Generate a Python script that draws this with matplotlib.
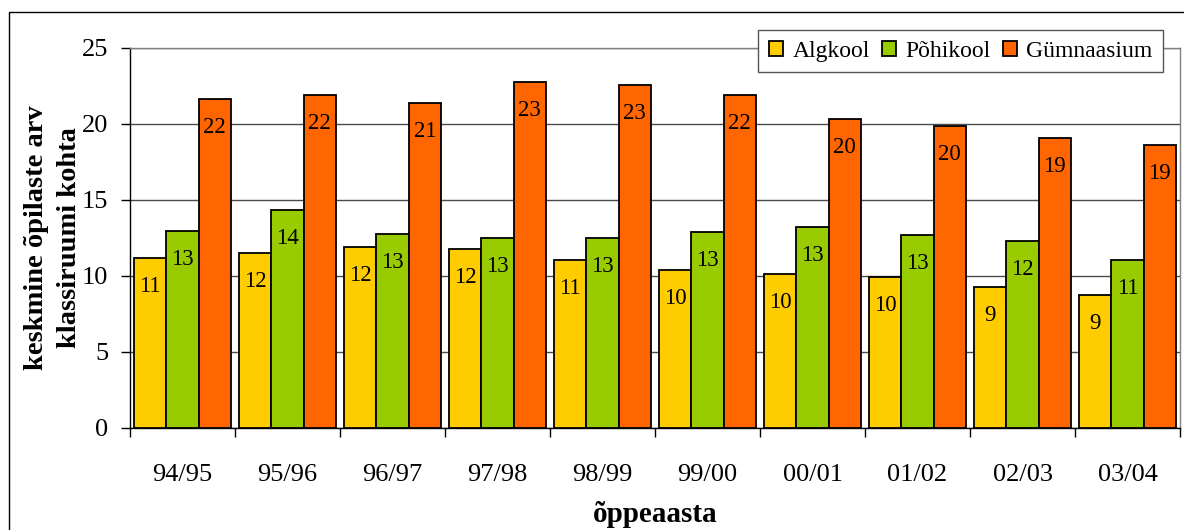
import numpy as np
import matplotlib
matplotlib.use("Agg")
import matplotlib.pyplot as plt
from matplotlib.patches import Rectangle

# Average number of pupils per classroom by school level
years = ["94/95", "95/96", "96/97", "97/98", "98/99", "99/00",
         "00/01", "01/02", "02/03", "03/04"]
algkool = [11.18, 11.54, 11.91, 11.80, 11.03, 10.37, 10.16, 9.93, 9.28, 8.78]
pohikool = [12.94, 14.32, 12.79, 12.52, 12.52, 12.92, 13.20, 12.67, 12.30, 11.03]
gymnaasium = [21.63, 21.91, 21.38, 22.76, 22.55, 21.91, 20.36, 19.87, 19.11, 18.64]

series_names = ["Algkool", "Põhikool", "Gümnaasium"]
colors = ["#FFCC00", "#99CC00", "#FF6600"]

plt.rcParams["font.family"] = ["Liberation Serif", "DejaVu Serif"]

W, H = 1184, 530
fig = plt.figure(figsize=(W / 100, H / 100), dpi=100)
ax = fig.add_axes([130 / W, 1 - 428 / H, (1180 - 130) / W, (428 - 48) / H])

x = np.arange(len(years))
bar_w = 0.308
offsets = [-bar_w, 0.0, bar_w]
for vals, name, col, off in zip([algkool, pohikool, gymnaasium], series_names, colors, offsets):
    bars = ax.bar(x + off, vals, width=bar_w, color=col, edgecolor="black",
                  linewidth=1.3, label=name, zorder=3)
    for b, v in zip(bars, vals):
        ax.annotate(f"{v:.0f}", xy=(b.get_x() + b.get_width() / 2, v),
                    xytext=(0, -34), textcoords="offset pixels",
                    ha="center", va="baseline", fontsize=16.5, zorder=4)

ax.set_xlim(-0.5, len(years) - 0.5)
ax.set_ylim(0, 25)
ax.set_yticks(np.arange(0, 26, 5))
ax.yaxis.grid(True, color="#4a4a4a", linewidth=1.0, zorder=0)
ax.set_axisbelow(True)

# category boundaries carry tick marks, labels sit at category centres
ax.set_xticks(np.arange(-0.5, len(years), 1.0))
ax.set_xticklabels([])
ax.set_xticks(x, minor=True)
ax.set_xticklabels(years, minor=True)
ax.tick_params(axis="x", which="major", length=6.5, width=1, direction="out")
ax.tick_params(axis="x", which="minor", length=0, pad=26, labelsize=19)
ax.tick_params(axis="y", length=6.5, width=1, pad=9, labelsize=19)

for side in ["left", "bottom"]:
    ax.spines[side].set_color("black")
    ax.spines[side].set_linewidth(1.0)
for side in ["top", "right"]:
    ax.spines[side].set_color("#808080")
    ax.spines[side].set_linewidth(1.0)

ax.set_ylabel("keskmine õpilaste arv\nklassiruumi kohta", fontsize=20.5,
              fontweight="bold", labelpad=0, linespacing=1.45)
ax.set_xlabel("õppeaasta", fontsize=21, fontweight="bold", labelpad=11)

leg = fig.legend(loc="upper right", bbox_to_anchor=(1163 / W, 1 - 30 / H),
                 ncol=3, fontsize=17, frameon=True, fancybox=False,
                 edgecolor="#555555", framealpha=1.0,
                 handlelength=0.6, handleheight=0.6, handletextpad=0.4,
                 columnspacing=0.5, borderpad=0.45, borderaxespad=0)
leg.get_frame().set_linewidth(1.0)

# outer chart frame
fig.patches.append(Rectangle((9 / W, -0.1), 1.2, 1.1 - 12 / H,
                             transform=fig.transFigure, fill=False,
                             edgecolor="black", linewidth=1.0, zorder=0))

fig.savefig("out.png", dpi=100)
